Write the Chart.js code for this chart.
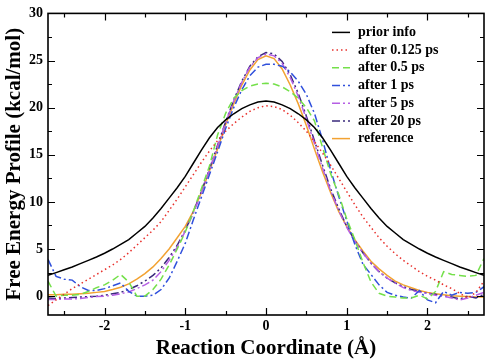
<!DOCTYPE html>
<html>
<head>
<meta charset="utf-8">
<script src="https://cdn.jsdelivr.net/npm/chart.js@4.4.1/dist/chart.umd.min.js"></script>
<style>
  html, body { margin: 0; padding: 0; background: #fff; }
</style>
</head>
<body>
<canvas id="feChart" width="490" height="364"></canvas>
<script>
// reaction coordinate (Angstrom)
const coord = [-2.7, -2.6, -2.5, -2.4, -2.3, -2.2, -2.1, -2.0, -1.9, -1.8, -1.7, -1.6, -1.5, -1.4,
  -1.3, -1.2, -1.1, -1.0, -0.9, -0.8, -0.7, -0.6, -0.5, -0.4, -0.3, -0.2, -0.1, 0.0,
  0.1, 0.2, 0.3, 0.4, 0.5, 0.6, 0.7, 0.8, 0.9, 1.0, 1.1, 1.2, 1.3, 1.4,
  1.5, 1.6, 1.7, 1.8, 1.9, 2.0, 2.1, 2.2, 2.3, 2.4, 2.5, 2.6, 2.7];

// free energy (kcal/mol)
const priorInfo = [2.2, 2.5, 2.8, 3.1, 3.45, 3.8, 4.15, 4.55, 5.0, 5.5, 6.0, 6.7, 7.4, 8.3,
  9.3, 10.4, 11.5, 12.7, 14.1, 15.5, 16.8, 17.9, 18.7, 19.35, 19.9, 20.3, 20.6, 20.7,
  20.6, 20.3, 19.9, 19.35, 18.7, 17.9, 16.8, 15.5, 14.1, 12.7, 11.5, 10.4, 9.3, 8.3,
  7.4, 6.7, 6.0, 5.5, 5.0, 4.55, 4.15, 3.8, 3.45, 3.1, 2.8, 2.5, 2.2];
const after0125 = [-1.0, -0.4, 0.2, 0.8, 1.3, 1.8, 2.3, 2.8, 3.3, 3.9, 4.6, 5.4, 6.2, 7.0,
  7.9, 9.1, 10.3, 11.6, 12.9, 14.2, 15.4, 16.5, 17.5, 18.3, 19.0, 19.6, 20.0, 20.2,
  20.1, 19.8, 19.2, 18.4, 17.5, 16.4, 15.2, 13.9, 12.5, 11.1, 9.7, 8.4, 7.3, 6.2,
  5.3, 4.5, 3.8, 3.2, 2.6, 2.1, 1.7, 1.2, 0.8, 0.3, -0.2, 0.4, 1.6];
const after05 = [1.6, 0.0, 0.1, 0.1, 0.2, 0.5, 0.9, 1.2, 1.7, 2.3, 1.5, 0.0, 0.0, 0.7,
  1.8, 3.3, 5.0, 6.8, 9.0, 11.4, 13.8, 17.1, 19.4, 21.0, 21.8, 22.3, 22.5, 22.6,
  22.5, 22.2, 21.7, 21.0, 20.0, 18.6, 15.8, 13.0, 10.8, 8.2, 6.0, 3.6, 1.5, 0.3,
  0.0, -0.1, -0.2, -0.2, 0.1, -0.3, 0.5, 2.6, 2.3, 2.2, 2.1, 2.2, 4.0];
const after1 = [3.9, 2.1, 1.8, 1.7, 1.0, 0.6, 0.6, 0.8, 1.1, 1.4, 0.5, 0.0, 0.0, 0.1,
  0.7, 1.9, 3.7, 5.6, 8.1, 10.5, 12.9, 15.3, 17.8, 20.0, 21.9, 23.4, 24.3, 24.6,
  24.6, 24.4, 23.8, 22.8, 21.4, 19.4, 16.6, 13.4, 10.6, 8.0, 5.5, 3.4, 2.3, 1.2,
  0.4, 0.1, -0.1, -0.2, 0.6, -0.4, -0.7, 0.5, 0.1, 0.4, 0.3, 0.4, 1.0];
const after5 = [-0.35, -0.35, -0.3, -0.3, -0.25, -0.15, -0.05, 0.0, 0.1, 0.25, 0.45, 0.8, 1.2, 1.7,
  2.6, 3.8, 5.2, 6.9, 8.8, 11.0, 13.4, 15.9, 18.4, 20.7, 22.7, 24.3, 25.3, 25.7,
  25.5, 24.7, 23.2, 21.2, 18.8, 16.2, 13.6, 11.2, 9.1, 7.3, 5.8, 4.6, 3.5, 2.6,
  1.9, 1.4, 0.9, 0.6, 0.4, 0.3, 0.1, 0.0, -0.2, -0.4, -0.2, 0.1, 0.4];
const after20 = [-0.2, -0.25, -0.2, -0.15, -0.1, -0.05, 0.0, 0.1, 0.25, 0.4, 0.7, 1.1, 1.6, 2.2,
  3.0, 4.1, 5.4, 7.0, 8.9, 11.1, 13.5, 16.0, 18.5, 20.8, 22.8, 24.4, 25.4, 25.85,
  25.7, 24.9, 23.5, 21.5, 19.1, 16.5, 13.9, 11.4, 9.3, 7.4, 5.9, 4.6, 3.5, 2.6,
  1.9, 1.4, 1.0, 0.7, 0.5, 0.3, 0.2, 0.0, -0.1, -0.3, 0.0, -0.2, 0.2];
const reference = [0.15, 0.15, 0.2, 0.2, 0.25, 0.3, 0.4, 0.5, 0.7, 0.95, 1.3, 1.8, 2.4, 3.1,
  4.0, 5.0, 6.2, 7.4, 9.0, 11.0, 13.3, 15.6, 18.2, 20.4, 22.4, 24.0, 25.1, 25.5,
  25.2, 24.1, 22.4, 20.4, 18.1, 15.6, 13.2, 11.0, 9.0, 7.4, 6.0, 4.8, 3.7, 2.9,
  2.2, 1.6, 1.2, 0.9, 0.6, 0.4, 0.25, 0.15, 0.05, 0.0, -0.05, -0.1, -0.1];

const seriesNames = ['prior info', 'after 0.125 ps', 'after 0.5 ps', 'after 1 ps',
  'after 5 ps', 'after 20 ps', 'reference'];
const seriesValues = [priorInfo, after0125, after05, after1, after5, after20, reference];
const seriesColors = ['#000000', '#e8302c', '#74e04a', '#3050dc', '#b55ee4', '#3a2a7c', '#f2a232'];
const seriesDash = [[], [1.5, 3], [7, 4], [8, 3, 2, 3], [8, 3, 2, 3], [8, 3, 2, 3, 2, 3], []];

const serif = '"Liberation Serif", "Times New Roman", serif';

function toPoints(values) {
  return values.map((v, i) => ({ x: coord[i], y: v }));
}

// inward major/minor ticks on all four sides + box frame
const frameTicks = {
  id: 'frameTicks',
  afterDatasetsDraw(chart) {
    const { ctx, chartArea: a, scales: { x, y } } = chart;
    ctx.save();
    ctx.strokeStyle = '#000';
    ctx.lineWidth = 1.2;
    ctx.beginPath();
    x.ticks.forEach(t => {
      [[t.value, 7], [t.value + 0.5, 4]].forEach(([v, len]) => {
        if (v < x.min || v > x.max) return;
        const px = Math.round(x.getPixelForValue(v)) + 0.5;
        ctx.moveTo(px, a.bottom); ctx.lineTo(px, a.bottom - len);
        ctx.moveTo(px, a.top); ctx.lineTo(px, a.top + len);
      });
    });
    x.ticks.length && [x.ticks[0].value - 0.5].forEach(v => {
      if (v < x.min) return;
      const px = Math.round(x.getPixelForValue(v)) + 0.5;
      ctx.moveTo(px, a.bottom); ctx.lineTo(px, a.bottom - 4);
      ctx.moveTo(px, a.top); ctx.lineTo(px, a.top + 4);
    });
    y.ticks.forEach(t => {
      [[t.value, 7], [t.value + 2.5, 4]].forEach(([v, len]) => {
        if (v < y.min || v > y.max) return;
        const py = Math.round(y.getPixelForValue(v)) + 0.5;
        ctx.moveTo(a.left, py); ctx.lineTo(a.left + len, py);
        ctx.moveTo(a.right, py); ctx.lineTo(a.right - len, py);
      });
    });
    ctx.stroke();
    ctx.lineWidth = 1.6;
    ctx.strokeRect(a.left, a.top, a.right - a.left, a.bottom - a.top);
    ctx.restore();
  }
};

// legend in the upper right of the plot, line samples with dashes
const lineLegend = {
  id: 'lineLegend',
  afterDraw(chart) {
    const { ctx, chartArea: a } = chart;
    ctx.save();
    ctx.font = 'bold 14px ' + serif;
    ctx.textBaseline = 'middle';
    ctx.fillStyle = '#000';
    chart.data.datasets.forEach((ds, i) => {
      const yy = a.top + 19 + i * 17.7;
      const x0 = a.left + 284;
      ctx.strokeStyle = ds.borderColor;
      ctx.lineWidth = 1.5;
      ctx.setLineDash(ds.borderDash || []);
      ctx.beginPath();
      ctx.moveTo(x0, yy);
      ctx.lineTo(x0 + 18, yy);
      ctx.stroke();
      ctx.setLineDash([]);
      ctx.fillText(ds.label, x0 + 26, yy);
    });
    ctx.restore();
  }
};

new Chart(document.getElementById('feChart').getContext('2d'), {
  type: 'line',
  data: {
    datasets: seriesNames.map((name, i) => ({
      label: name,
      data: toPoints(seriesValues[i]),
      borderColor: seriesColors[i],
      borderDash: seriesDash[i],
      borderWidth: 1.5,
      pointRadius: 0,
      tension: 0,
      fill: false
    }))
  },
  options: {
    responsive: false,
    animation: false,
    devicePixelRatio: 1,
    layout: { padding: { top: 11, right: 6, left: 0, bottom: 0 } },
    plugins: { legend: { display: false }, tooltip: { enabled: false } },
    scales: {
      x: {
        type: 'linear',
        min: -2.7,
        max: 2.7,
        grid: { display: false, drawTicks: false },
        border: { display: false },
        ticks: {
          stepSize: 1,
          includeBounds: false,
          padding: 3,
          color: '#000',
          font: { family: serif, size: 14, weight: 'bold' }
        },
        title: {
          display: true,
          text: 'Reaction Coordinate (Å)',
          color: '#000',
          padding: { top: 0, bottom: 3 },
          font: { family: serif, size: 21, weight: 'bold' }
        },
        afterFit(scale) { scale.height = 49; }
      },
      y: {
        min: -2,
        max: 30,
        grid: { display: false, drawTicks: false },
        border: { display: false },
        ticks: {
          stepSize: 5,
          includeBounds: false,
          padding: 5,
          color: '#000',
          font: { family: serif, size: 14, weight: 'bold' }
        },
        title: {
          display: true,
          text: 'Free Energy Profile (kcal/mol)',
          color: '#000',
          padding: { top: 2, bottom: 0 },
          font: { family: serif, size: 21, weight: 'bold' }
        },
        afterFit(scale) { scale.width = 48; }
      }
    }
  },
  plugins: [frameTicks, lineLegend]
});
</script>
</body>
</html>
